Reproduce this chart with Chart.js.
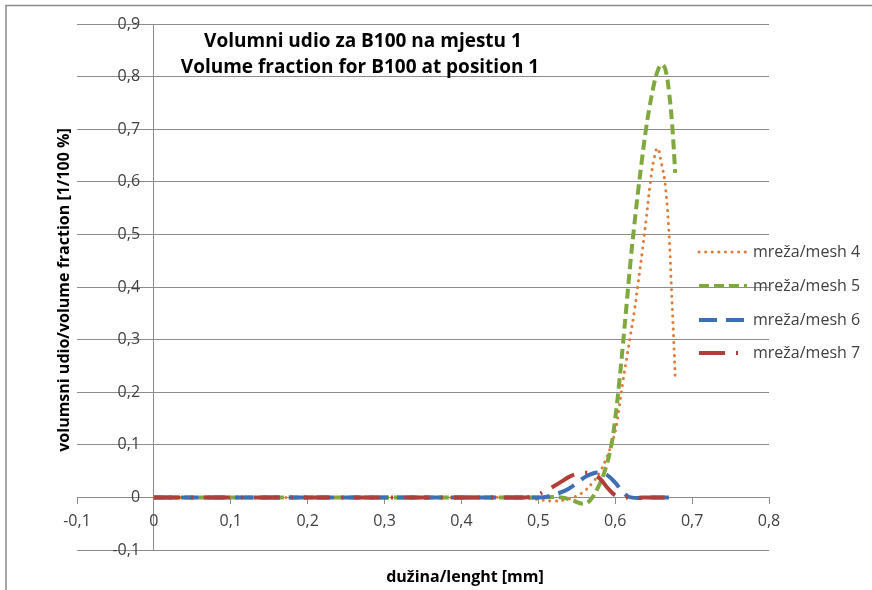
<!DOCTYPE html>
<html>
<head>
<meta charset="utf-8">
<script src="https://cdn.jsdelivr.net/npm/chart.js@4/dist/chart.umd.min.js"></script>
<style>
  html, body { margin: 0; padding: 0; background: #fff; }
  #wrap { width: 872px; height: 590px; }
</style>
</head>
<body>
<div id="wrap"><canvas id="chart"></canvas></div>
<script>
const titleLines = ['Volumni udio za B100 na mjestu 1', 'Volume fraction for B100 at position 1'];
const xTitle = 'dužina/lenght [mm]';
const yTitle = 'volumsni udio/volume fraction [1/100 %]';
const seriesNames = ['mreža/mesh 4', 'mreža/mesh 5', 'mreža/mesh 6', 'mreža/mesh 7'];

// mesh 4 (orange, dotted)
const mesh4X = [0, 0.1, 0.2, 0.3, 0.4, 0.47, 0.5, 0.52, 0.54, 0.55, 0.56, 0.57, 0.58, 0.59, 0.6, 0.605, 0.61, 0.615, 0.62, 0.625, 0.63, 0.635, 0.64, 0.645, 0.65, 0.655, 0.66, 0.665, 0.67, 0.673, 0.676, 0.678];
const mesh4Y = [0, 0, 0, 0, 0, 0, -0.004, -0.007, -0.003, 0.003, 0.012, 0.027, 0.048, 0.08, 0.125, 0.17, 0.22, 0.265, 0.31, 0.355, 0.41, 0.465, 0.525, 0.59, 0.64, 0.664, 0.636, 0.595, 0.5, 0.4, 0.3, 0.227];

// mesh 5 (green, dashed)
const mesh5X = [0, 0.1, 0.2, 0.3, 0.4, 0.5, 0.53, 0.545, 0.558, 0.567, 0.578, 0.587, 0.595, 0.6, 0.605, 0.61, 0.615, 0.62, 0.625, 0.63, 0.635, 0.64, 0.645, 0.65, 0.655, 0.66, 0.665, 0.67, 0.674, 0.678];
const mesh5Y = [0, 0, 0, 0, 0, 0, 0, -0.006, -0.012, -0.006, 0.02, 0.053, 0.1, 0.15, 0.215, 0.29, 0.37, 0.45, 0.52, 0.585, 0.645, 0.7, 0.745, 0.783, 0.81, 0.823, 0.815, 0.77, 0.71, 0.617];

// mesh 6 (blue, long dash)
const mesh6X = [0, 0.1, 0.2, 0.3, 0.4, 0.5, 0.51, 0.52, 0.53, 0.54, 0.55, 0.56, 0.57, 0.58, 0.59, 0.6, 0.61, 0.62, 0.65, 0.678];
const mesh6Y = [0, 0, 0, 0, 0, 0, 0.001, 0.005, 0.01, 0.017, 0.027, 0.038, 0.045, 0.047, 0.042, 0.028, 0.01, 0, 0, 0];

// mesh 7 (red, long dash dot)
const mesh7X = [0, 0.1, 0.2, 0.3, 0.4, 0.48, 0.49, 0.5, 0.51, 0.52, 0.53, 0.54, 0.55, 0.56, 0.57, 0.58, 0.59, 0.6, 0.61, 0.65, 0.678];
const mesh7Y = [0, 0, 0, 0, 0, 0, 0.001, 0.006, 0.013, 0.021, 0.03, 0.039, 0.045, 0.047, 0.045, 0.036, 0.018, 0.004, 0, 0, 0];

const xTicks = [-0.1, 0, 0.1, 0.2, 0.3, 0.4, 0.5, 0.6, 0.7, 0.8];
const yTicks = [-0.1, 0, 0.1, 0.2, 0.3, 0.4, 0.5, 0.6, 0.7, 0.8, 0.9];

const FONT = "'Open Sans', sans-serif";
const GRID = '#8c8c8c';

function pairs(xs, ys) {
    return xs.map((x, i) => ({ x: x, y: ys[i] }));
}

function fmt(v) {
    const r = Math.round(v * 10) / 10;
    if (r === 0) return '0';
    return r.toFixed(1).replace('.', ',');
}

const decorPlugin = {
    id: 'decor',
    afterDraw(chart) {
        const ctx = chart.ctx;
        ctx.save();

        // outer frame
        ctx.strokeStyle = '#8a8a8a';
        ctx.lineWidth = 1.5;
        ctx.strokeRect(6, 5.5, 900, 620);

        // chart title inside plot
        ctx.fillStyle = '#000';
        ctx.font = 'bold 19px ' + FONT;
        ctx.textAlign = 'center';
        ctx.textBaseline = 'middle';
        ctx.fillText(titleLines[0], 363, 42);
        ctx.fillText(titleLines[1], 360, 68);

        // axis titles
        ctx.font = 'bold 16px ' + FONT;
        ctx.fillText(xTitle, 465, 577);
        ctx.save();
        ctx.translate(64, 290);
        ctx.rotate(-Math.PI / 2);
        ctx.fillText(yTitle, 0, 0);
        ctx.restore();

        // legend overlapping the right of the plot
        const rows = [252, 286, 320, 353];
        ctx.textAlign = 'left';
        ctx.font = '16px ' + FONT;
        chart.data.datasets.forEach((ds, i) => {
            const y = rows[i];
            ctx.save();
            ctx.strokeStyle = ds.borderColor;
            ctx.lineWidth = ds.borderWidth;
            ctx.lineCap = ds.borderCapStyle;
            ctx.setLineDash(ds.borderDash);
            ctx.beginPath();
            ctx.moveTo(699, y);
            ctx.lineTo(747, y);
            ctx.stroke();
            ctx.restore();
            ctx.fillStyle = '#404040';
            ctx.fillText(ds.label, 753, y);
        });
        ctx.restore();
    }
};

new Chart(document.getElementById('chart'), {
    type: 'scatter',
    data: {
        datasets: [
            { label: seriesNames[0], data: pairs(mesh4X, mesh4Y), borderColor: '#e07b39', borderWidth: 3, borderDash: [0.1, 6.5], borderCapStyle: 'round', order: 4 },
            { label: seriesNames[1], data: pairs(mesh5X, mesh5Y), borderColor: '#7fa83e', borderWidth: 4, borderDash: [10, 5], borderCapStyle: 'butt', order: 3 },
            { label: seriesNames[2], data: pairs(mesh6X, mesh6Y), borderColor: '#3d6fb5', borderWidth: 4, borderDash: [18, 9], borderCapStyle: 'butt', order: 2 },
            { label: seriesNames[3], data: pairs(mesh7X, mesh7Y), borderColor: '#b03e3b', borderWidth: 4, borderDash: [26, 11, 2, 11], borderCapStyle: 'butt', order: 1 }
        ].map(ds => Object.assign(ds, { showLine: true, pointRadius: 0, pointHoverRadius: 0, tension: 0.4, fill: false }))
    },
    options: {
        responsive: true,
        maintainAspectRatio: false,
        animation: false,
        events: [],
        layout: { padding: { left: 77, right: 103, top: 24, bottom: 40 } },
        plugins: { legend: { display: false }, title: { display: false }, tooltip: { enabled: false } },
        scales: {
            x: {
                type: 'linear',
                position: { y: 0 },
                min: -0.1,
                max: 0.8,
                afterBuildTicks: s => { s.ticks = xTicks.map(v => ({ value: v })); },
                ticks: { callback: v => fmt(v), font: { family: FONT, size: 16 }, color: '#404040', padding: 8, maxRotation: 0 },
                // only the x = 0 line is drawn across the plot: it is the vertical axis
                grid: { color: c => (c.tick && c.tick.value === 0 ? GRID : 'rgba(0,0,0,0)'), tickColor: GRID, tickLength: 6 },
                border: { color: GRID }
            },
            y: {
                type: 'linear',
                // labels sit just left of the x = 0 axis line
                position: { x: -0.018 },
                min: -0.1,
                max: 0.9,
                afterBuildTicks: s => { s.ticks = yTicks.map(v => ({ value: v })); },
                ticks: { callback: v => fmt(v), font: { family: FONT, size: 16 }, color: '#404040' },
                grid: { color: GRID, drawTicks: false },
                border: { display: false }
            }
        }
    },
    plugins: [decorPlugin]
});
</script>
</body>
</html>
